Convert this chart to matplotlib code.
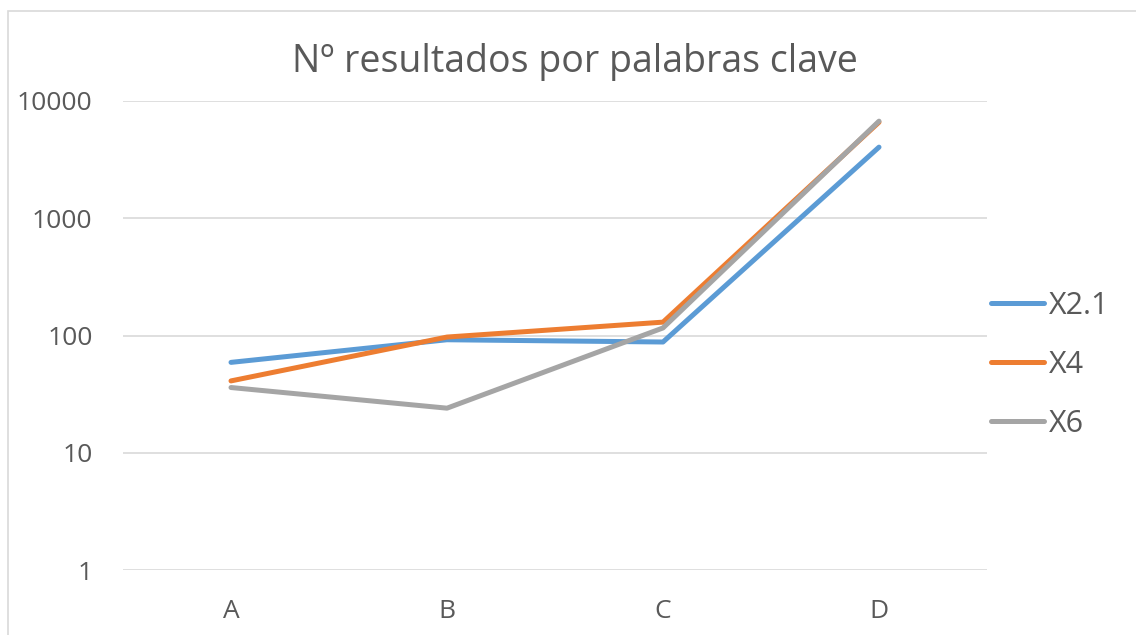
import matplotlib
matplotlib.use('Agg')
import matplotlib.pyplot as plt
from matplotlib.patches import Rectangle

# Datos
categorias = ['A', 'B', 'C', 'D']
x21 = [59, 92, 88, 4040]
x4 = [41, 97, 130, 6590]
x6 = [36, 24, 116, 6730]
series = ['X2.1', 'X4', 'X6']
colores = ['#5b9bd5', '#ed7d31', '#a5a5a5']

plt.rcParams['font.family'] = ['Open Sans', 'DejaVu Sans']
gris = '#595959'

fig = plt.figure(figsize=(11.36, 6.35), dpi=100)
ax = fig.add_axes([123 / 1136, 1 - 570 / 635, 864 / 1136, 469 / 635])

pos = range(len(categorias))
for vals, nombre, c in zip([x21, x4, x6], series, colores):
    ax.plot(pos, vals, color=c, lw=3.6, solid_capstyle='round',
            solid_joinstyle='round', label=nombre)

ax.set_yscale('log')
ax.set_ylim(1, 10000)
ax.set_xlim(-0.5, 3.5)
ax.set_yticks([1, 10, 100, 1000, 10000])
ax.set_yticklabels(['1', '10', '100', '1000', '10000'])
ax.minorticks_off()
ax.set_xticks(list(pos))
ax.set_xticklabels(categorias)
ax.tick_params(axis='both', length=0, labelsize=19, colors=gris)
ax.tick_params(axis='y', pad=22)
ax.tick_params(axis='x', pad=21)
ax.grid(axis='y', color='#d9d9d9', lw=1.2)
ax.set_axisbelow(True)
for s in ax.spines.values():
    s.set_visible(False)

fig.text(575 / 1136, 1 - 62 / 635, 'Nº resultados por palabras clave',
         ha='center', va='center', fontsize=27, color=gris)

leg = ax.legend(loc='center left', bbox_to_anchor=(991 / 1136, 1 - 365 / 635),
                bbox_transform=fig.transFigure, frameon=False, fontsize=22,
                handlelength=1.75, handletextpad=0.15, labelspacing=0.95,
                borderaxespad=0, borderpad=0)
for t in leg.get_texts():
    t.set_color(gris)

# marco del gráfico
fig.patches.append(Rectangle((8 / 1136, -0.1), 1.2, 1 - 11 / 635 + 0.1,
                             transform=fig.transFigure, fill=False,
                             edgecolor='#d9d9d9', lw=1.2))

fig.savefig('out.png', dpi=100)
